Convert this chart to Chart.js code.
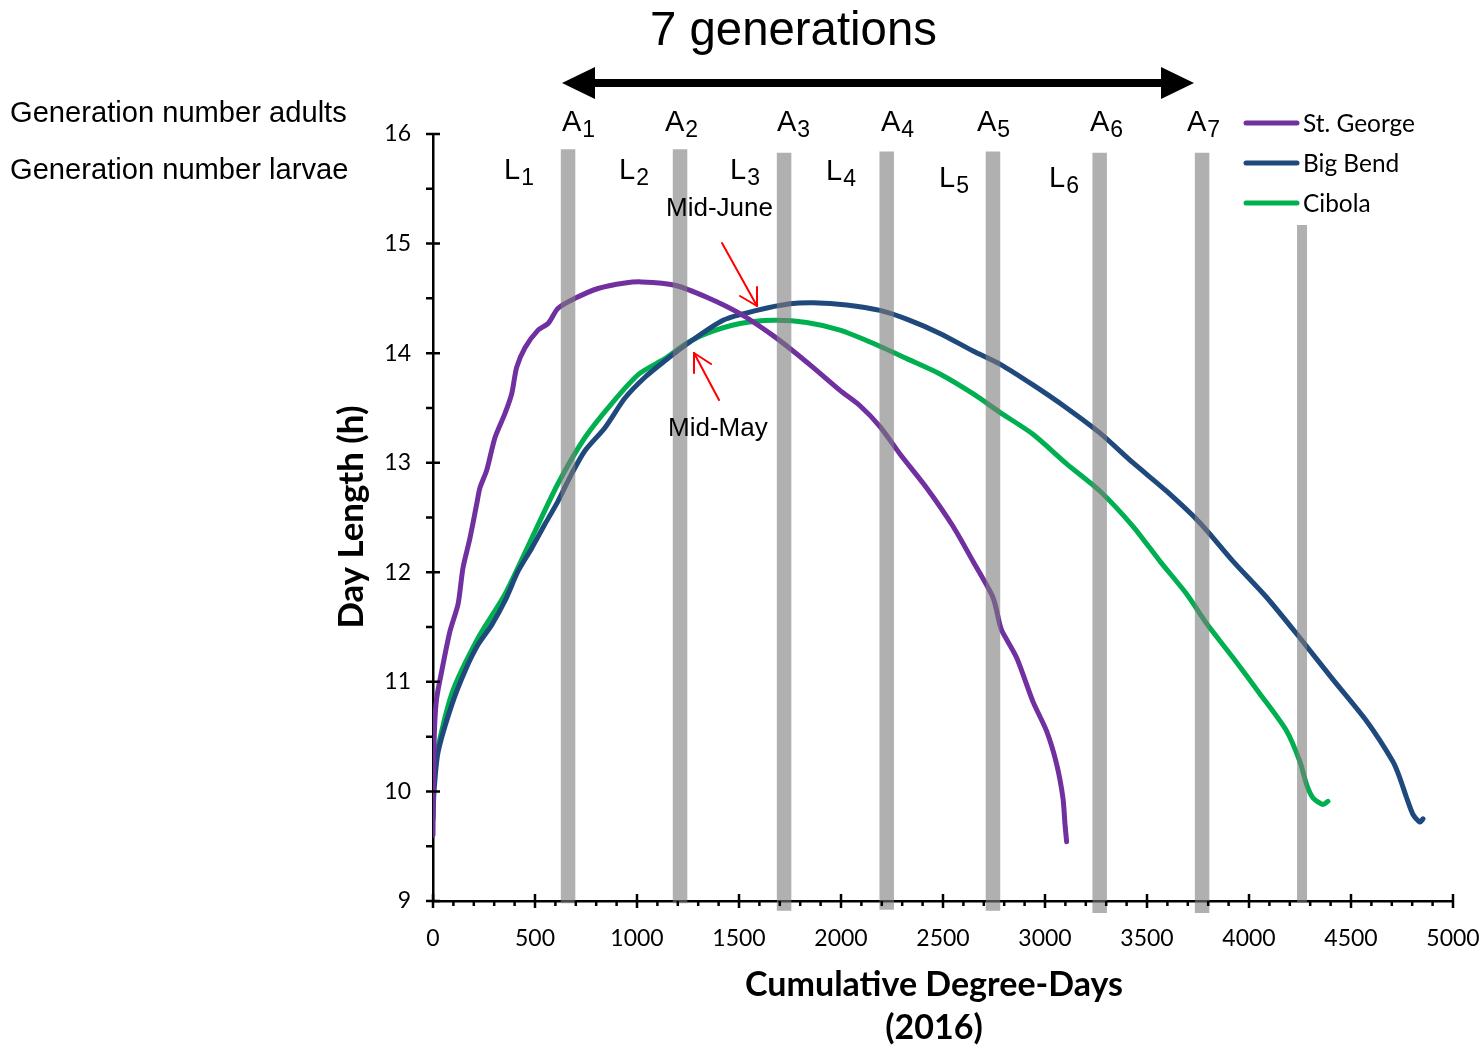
<!DOCTYPE html>
<html>
<head>
<meta charset="utf-8">
<script src="https://cdn.jsdelivr.net/npm/chart.js@4.4.1/dist/chart.umd.min.js"></script>
<style>
  html, body { margin: 0; padding: 0; background: #fff; }
  #wrap { width: 1484px; height: 1050px; }
</style>
</head>
<body>
<div id="wrap"><canvas id="dayChart" width="1484" height="1050"></canvas></div>
<script>
// values (cumulative degree-days vs day length, h)
const stGeorgeX = [0, 3, 8, 18, 43, 83, 123, 147, 181, 214, 230, 263, 304, 353, 386, 410, 451, 515, 564, 613,
  696, 809, 941, 1023, 1186, 1342, 1505, 1667, 1765, 1863, 1995, 2093, 2191, 2289, 2420, 2549, 2647, 2745, 2779, 2790,
  2861, 2941, 3008, 3057, 3088, 3098, 3106];
const stGeorgeY = [9.6, 10.2, 10.6, 10.85, 11.1, 11.46, 11.71, 12.04, 12.31, 12.62, 12.77, 12.93, 13.23, 13.45, 13.63, 13.87, 14.05, 14.21, 14.27, 14.41,
  14.5, 14.59, 14.64, 14.65, 14.62, 14.51, 14.36, 14.16, 14.02, 13.87, 13.66, 13.52, 13.33, 13.08, 12.77, 12.42, 12.1, 11.77, 11.52, 11.46,
  11.22, 10.82, 10.55, 10.25, 9.94, 9.7, 9.54];

const bigBendX = [0, 5, 25, 92, 157, 221, 288, 353, 417, 484, 549, 613, 680, 745, 843, 941, 1039, 1137, 1235, 1422,
  1587, 1750, 1863, 2028, 2191, 2322, 2485, 2647, 2779, 2941, 3106, 3270, 3431, 3596, 3760, 3922, 4087, 4250, 4412, 4577,
  4706, 4740, 4773, 4804, 4838, 4853];
const bigBendY = [9.75, 10.0, 10.36, 10.79, 11.1, 11.34, 11.52, 11.74, 12.01, 12.22, 12.44, 12.65, 12.9, 13.11, 13.32, 13.59, 13.78, 13.93, 14.07, 14.3,
  14.39, 14.45, 14.46, 14.44, 14.39, 14.31, 14.18, 14.02, 13.9, 13.71, 13.5, 13.27, 13.0, 12.74, 12.45, 12.1, 11.77, 11.4, 11.02, 10.64,
  10.27, 10.12, 9.94, 9.79, 9.72, 9.75];

const cibolaX = [0, 8, 92, 221, 353, 484, 613, 745, 876, 1010, 1137, 1235, 1342, 1505, 1667, 1832, 1995, 2157, 2322, 2485,
  2647, 2779, 2941, 3106, 3270, 3431, 3564, 3695, 3793, 3922, 4054, 4185, 4250, 4283, 4314, 4363, 4387];
const cibolaY = [9.85, 10.24, 10.89, 11.4, 11.8, 12.31, 12.81, 13.23, 13.54, 13.81, 13.95, 14.08, 14.18, 14.27, 14.3, 14.28, 14.21, 14.09, 13.95, 13.81,
  13.63, 13.46, 13.26, 12.99, 12.74, 12.42, 12.1, 11.8, 11.53, 11.22, 10.89, 10.55, 10.27, 10.06, 9.94, 9.88, 9.91];

// generation markers (gray bars)
const genX = [662, 1211, 1721, 2224, 2745, 3268, 3770, 4260];
const genTop = [15.86, 15.86, 15.83, 15.84, 15.84, 15.83, 15.83, 15.17];
const genBottom = [8.98, 8.98, 8.91, 8.92, 8.91, 8.89, 8.89, 8.99];

const adultLabels = ['1', '2', '3', '4', '5', '6', '7'];
const larvaLabels = ['1', '2', '3', '4', '5', '6'];
const seriesNames = ['St. George', 'Big Bend', 'Cibola'];
const seriesColors = ['#7030A0', '#1F497D', '#00B050'];

const sans = '"Liberation Sans", Arial, sans-serif';
const calib = 'Lato, sans-serif';

const measure = document.createElement('canvas').getContext('2d');
function fitSize(text, width, weight, family) {
  measure.font = weight + ' 100px ' + family;
  return 100 * width / measure.measureText(text).width;
}
function pts(xs, ys) {
  return xs.map((x, i) => ({ x: x, y: ys[i] }));
}

function curve(i, xs, ys) {
  return {
    type: 'line', label: seriesNames[i], data: pts(xs, ys),
    borderColor: seriesColors[i], borderWidth: 5, tension: 0.25,
    pointRadius: 0, borderCapStyle: 'round', borderJoinStyle: 'round', order: 1
  };
}

const barDatasets = genX.map((x, i) => ({
  type: 'line', label: 'gen' + i,
  data: [{ x: x, y: genBottom[i] }, { x: x, y: genTop[i] }],
  borderColor: 'rgba(123,123,123,0.6)',
  borderWidth: i === genX.length - 1 ? 10 : 14.5,
  borderCapStyle: 'butt', pointRadius: 0, clip: false, order: 0
}));

function subLabel(ctx, base, sub, left, baseline, size) {
  ctx.font = size + 'px ' + sans;
  ctx.textAlign = 'left';
  ctx.textBaseline = 'alphabetic';
  ctx.fillText(base, left, baseline);
  const w = ctx.measureText(base).width;
  ctx.font = Math.round(size * 0.8) + 'px ' + sans;
  ctx.fillText(sub, left + w + 1, baseline + 6);
}

function line(ctx, x1, y1, x2, y2) {
  ctx.beginPath();
  ctx.moveTo(x1, y1);
  ctx.lineTo(x2, y2);
  ctx.stroke();
}

const axisTicks = {
  id: 'axisTicks',
  afterDraw(chart) {
    const { ctx, scales: { x, y } } = chart;
    const x0 = x.getPixelForValue(0);
    const y0 = y.getPixelForValue(9);
    ctx.save();
    ctx.strokeStyle = '#000';
    ctx.lineWidth = 2.5;
    ctx.beginPath();
    for (let v = 0; v <= 5000; v += 100) {
      const px = x.getPixelForValue(v);
      const major = v % 500 === 0;
      ctx.moveTo(px, major ? y0 - 7 : y0);
      ctx.lineTo(px, major ? y0 + 7 : y0 + 5);
    }
    for (let v = 9; v <= 16; v += 0.5) {
      const py = y.getPixelForValue(v);
      const major = v % 1 === 0;
      ctx.moveTo(x0 - 7, py);
      ctx.lineTo(major ? x0 + 7 : x0, py);
    }
    ctx.stroke();
    ctx.restore();
  }
};

const annotations = {
  id: 'annotations',
  afterDraw(chart) {
    const ctx = chart.ctx;
    ctx.save();
    ctx.fillStyle = '#000';

    // title and double arrow
    ctx.font = fitSize('7 generations', 287, '', sans) + 'px ' + sans;
    ctx.textAlign = 'left';
    ctx.textBaseline = 'alphabetic';
    ctx.fillText('7 generations', 650, 45);

    ctx.strokeStyle = '#000';
    ctx.lineWidth = 8;
    line(ctx, 590, 83, 1166, 83);
    ctx.beginPath();
    ctx.moveTo(562, 83); ctx.lineTo(595, 67); ctx.lineTo(595, 99); ctx.closePath();
    ctx.moveTo(1194, 83); ctx.lineTo(1161, 67); ctx.lineTo(1161, 99); ctx.closePath();
    ctx.fill();

    // row captions
    const capSize = fitSize('Generation number adults', 337, '', sans);
    ctx.font = capSize + 'px ' + sans;
    ctx.fillText('Generation number adults', 10, 122);
    ctx.fillText('Generation number larvae', 10, 179);

    // A / L labels
    const aLeft = [562, 665, 777, 881, 977, 1090, 1187];
    adultLabels.forEach((s, i) => subLabel(ctx, 'A', s, aLeft[i], 131, 29));
    const lLeft = [504, 619, 730, 826, 939, 1049];
    const lBase = [179, 179, 179, 180, 187, 187];
    larvaLabels.forEach((s, i) => subLabel(ctx, 'L', s, lLeft[i], lBase[i], 29));

    // Mid-June / Mid-May notes with red arrows
    ctx.font = fitSize('Mid-June', 107, '', sans) + 'px ' + sans;
    ctx.textAlign = 'left';
    ctx.fillText('Mid-June', 666, 216);
    ctx.fillText('Mid-May', 668, 436);

    ctx.strokeStyle = '#FF0000';
    ctx.lineWidth = 2;
    ctx.lineCap = 'round';
    line(ctx, 722, 243, 757, 306);
    line(ctx, 757, 306, 740, 296);
    line(ctx, 757, 306, 757, 287);
    line(ctx, 719, 400, 694, 353);
    line(ctx, 694, 353, 694, 373);
    line(ctx, 694, 353, 711, 364);

    // legend
    const legSize = fitSize('St. George', 112, '', calib);
    seriesNames.forEach((name, i) => {
      const yy = 123 + i * 40;
      ctx.strokeStyle = seriesColors[i];
      ctx.lineWidth = 5;
      ctx.lineCap = 'round';
      line(ctx, 1246, yy, 1297, yy);
      ctx.font = legSize + 'px ' + calib;
      ctx.fillStyle = '#000';
      ctx.textAlign = 'left';
      ctx.textBaseline = 'middle';
      ctx.fillText(name, 1303, yy + 1);
    });

    // axis titles
    ctx.fillStyle = '#000';
    ctx.textAlign = 'center';
    ctx.textBaseline = 'middle';
    const xtSize = fitSize('Cumulative Degree-Days', 378, 'bold', calib);
    ctx.font = 'bold ' + xtSize + 'px ' + calib;
    ctx.fillText('Cumulative Degree-Days', 934, 985);
    ctx.fillText('(2016)', 934, 1028);

    ctx.translate(352, 517);
    ctx.rotate(-Math.PI / 2);
    ctx.font = 'bold ' + fitSize('Day Length (h)', 223, 'bold', calib) + 'px ' + calib;
    ctx.fillText('Day Length (h)', 0, 0);
    ctx.restore();
  }
};

new Chart(document.getElementById('dayChart').getContext('2d'), {
  type: 'line',
  data: {
    datasets: [
      curve(0, stGeorgeX, stGeorgeY),
      curve(1, bigBendX, bigBendY),
      curve(2, cibolaX, cibolaY)
    ].concat(barDatasets)
  },
  options: {
    responsive: false,
    animation: false,
    layout: { padding: { top: 134, right: 31, bottom: 0, left: 0 } },
    plugins: { legend: { display: false }, tooltip: { enabled: false } },
    scales: {
      x: {
        type: 'linear', min: 0, max: 5000,
        afterFit: function(scale) {
          scale.height = 149;
          scale.paddingLeft = 0;
          scale.paddingRight = 0;
        },
        grid: { display: true, drawOnChartArea: false, drawTicks: false },
        border: { display: true, color: '#000', width: 2.5 },
        ticks: {
          stepSize: 500, padding: 24, color: '#000', maxRotation: 0,
          font: { family: 'Lato', size: 23 },
          callback: function(value) { return String(value); }
        }
      },
      y: {
        type: 'linear', min: 9, max: 16,
        afterFit: function(scale) {
          scale.width = 433;
          scale.paddingTop = 0;
          scale.paddingBottom = 0;
        },
        grid: { display: true, drawOnChartArea: false, drawTicks: false },
        border: { display: true, color: '#000', width: 2.5 },
        ticks: { stepSize: 1, padding: 22, color: '#000', font: { family: 'Lato', size: 23 } }
      }
    }
  },
  plugins: [axisTicks, annotations]
});
</script>
</body>
</html>
